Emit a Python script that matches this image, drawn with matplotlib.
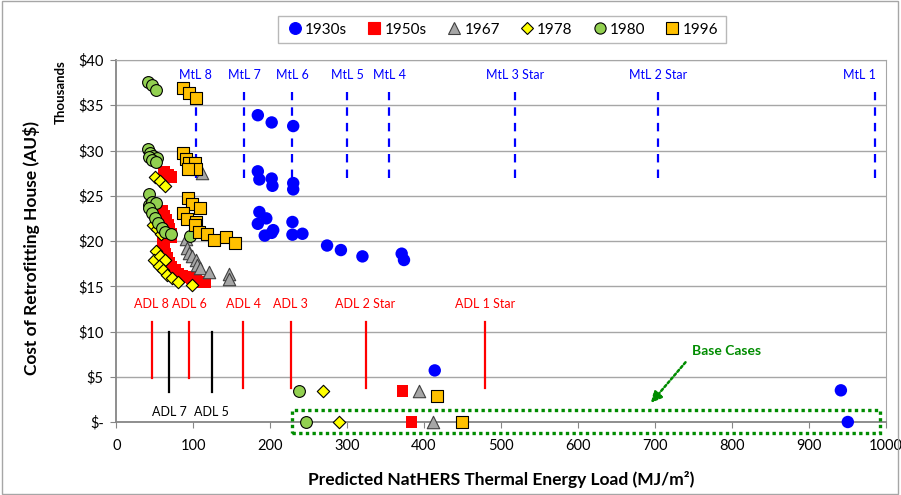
import matplotlib
matplotlib.use("Agg")
import matplotlib.pyplot as plt
from matplotlib.patches import Rectangle
from matplotlib.lines import Line2D
from matplotlib.ticker import FuncFormatter

plt.rcParams['font.family'] = ['Lato', 'DejaVu Sans']

# ---------------- data (y in thousands AU$) ----------------
x_1930s = [184, 202, 230, 184, 186, 202, 203, 230, 230, 186, 195, 184, 204, 193, 202, 229, 229, 242,
           274, 292, 320, 371, 374, 414, 942, 951]
y_1930s = [33.9, 33.1, 32.7, 27.7, 26.8, 26.9, 26.1, 26.4, 25.7, 23.2, 22.5, 21.9, 21.2, 20.6, 20.9, 22.1, 20.7, 20.8,
           19.5, 19.0, 18.3, 18.6, 17.9, 5.7, 3.5, 0]

x_1950s = [62, 67, 71, 60, 62, 65, 67, 69, 71, 72, 60, 62, 64, 66, 69, 72, 76, 81, 86, 92, 98, 104, 110, 115, 372, 384]
y_1950s = [27.6, 27.3, 27.1, 23.3, 22.8, 22.3, 21.8, 21.3, 20.8, 20.4, 19.8, 19.2, 18.6, 18.1, 17.6, 17.2, 16.8, 16.4,
           16.2, 16.0, 15.9, 15.7, 15.5, 15.4, 3.4, 0]

x_1967 = [111, 90.5, 92, 95, 98, 103.5, 105, 109, 121, 147, 147, 393.5, 412]
y_1967 = [27.5, 20.2, 19.2, 18.7, 18.3, 17.9, 17.3, 17.0, 16.6, 16.4, 15.8, 3.4, 0]

x_1978 = [50, 57, 63, 48, 53, 58, 52, 49, 57, 63, 56, 61, 66, 72, 80, 99, 269, 289]
y_1978 = [27.1, 26.6, 26.1, 21.8, 21.3, 20.8, 18.9, 17.9, 18.3, 17.9, 17.2, 16.8, 16.2, 15.9, 15.5, 15.1, 3.4, 0]

x_1980 = [41, 47, 52, 41, 44, 48, 53, 42, 46, 52, 43, 42, 47, 52, 42, 46, 50, 54.5, 59, 63, 70.6, 95.7, 238, 247]
y_1980 = [37.6, 37.2, 36.7, 30.2, 29.7, 29.4, 29.2, 29.3, 28.9, 28.7, 25.2, 24.0, 24.3, 24.2, 23.7, 23.1, 22.5, 22.0,
          21.4, 21.0, 20.8, 20.5, 3.4, 0]

x_1996 = [87, 95, 103, 87, 90.5, 95, 102, 104, 93.5, 93.5, 99, 108.7, 87, 92, 104, 102, 108, 118, 127, 143, 154, 417, 449]
y_1996 = [36.9, 36.3, 35.8, 29.7, 29.1, 28.6, 28.6, 28.0, 28.0, 24.7, 24.1, 23.6, 23.1, 22.4, 22.1, 21.8, 21.0, 20.8,
          20.1, 20.4, 19.8, 2.9, 0]

mtl_labels = ['MtL 8', 'MtL 7', 'MtL 6', 'MtL 5', 'MtL 4', 'MtL 3 Star', 'MtL 2 Star', 'MtL 1']
mtl_x = [103.5, 166, 229, 300, 355, 518, 704, 986]
mtl_y = [27.0, 36.5]

adl_red_labels = ['ADL 8', 'ADL 6', 'ADL 4', 'ADL 3', 'ADL 2 Star', 'ADL 1 Star']
adl_red_x = [46, 95, 165, 226.5, 324, 479]
adl_red_bottom = [4.9, 4.9, 3.8, 3.8, 3.8, 3.8]
adl_red_top = 11.0

adl_black_labels = ['ADL 7', 'ADL 5']
adl_black_x = [69, 124]
adl_black_y = [3.35, 10.0]

base_box_x = [229, 992.7]
base_box_y = [-1.18, 1.33]

x_ticks = list(range(0, 1001, 100))
y_ticks = list(range(0, 41, 5))

# ---------------- figure ----------------
fig = plt.figure(figsize=(9.01, 4.95), dpi=100)
ax = fig.add_axes([116.3/901, 1-422/495, (885.5-116.3)/901, (422-60)/495])

ax.set_xlim(0, 1000)
ax.set_ylim(0, 40)
ax.set_xticks(x_ticks)
ax.set_yticks(y_ticks)
ax.yaxis.set_major_formatter(FuncFormatter(lambda v, p: '$-' if v == 0 else f'${int(v)}'))
ax.grid(axis='y', color='#A6A6A6', lw=1)
ax.set_axisbelow(True)
for s in ['top', 'right']:
    ax.spines[s].set_color('#A6A6A6')
for s in ['left', 'bottom']:
    ax.spines[s].set_color('#868686')
    ax.spines[s].set_linewidth(1.3)
ax.tick_params(axis='both', direction='out', length=4, color='#868686', labelsize=10.5)
ax.tick_params(axis='x', pad=8)
ax.tick_params(axis='y', pad=5)

# reference lines
blue = '#0000FF'
for lab, x in zip(mtl_labels, mtl_x):
    ax.plot([x, x], mtl_y, color=blue, lw=1.6, linestyle=(0, (3.8, 3.2)), zorder=2)
    ha = 'right' if x > 950 else 'center'
    ax.text(x + (2 if ha == 'right' else 0), 38.3, lab, color=blue, fontsize=9, ha=ha, va='center')

for lab, x, b in zip(adl_red_labels, adl_red_x, adl_red_bottom):
    ax.plot([x, x], [b, adl_red_top], color='#FF0000', lw=1.6, zorder=2)
    ax.text(x, 13.0, lab, color='#FF0000', fontsize=9, ha='center', va='center')

for lab, x in zip(adl_black_labels, adl_black_x):
    ax.plot([x, x], adl_black_y, color='black', lw=1.6, zorder=2)
    ax.text(x, 1.14, lab, color='black', fontsize=9, ha='center', va='center')

# series
series = [
    ('1930s', x_1930s, y_1930s, 'o', '#0000FF', 'none', 80),
    ('1950s', x_1950s, y_1950s, 's', '#FF0000', 'none', 70),
    ('1967', x_1967, y_1967, '^', '#A6A6A6', '#404040', 80),
    ('1978', x_1978, y_1978, 'D', '#FFFF00', '#000000', 40),
    ('1980', x_1980, y_1980, 'o', '#92D050', '#000000', 72),
    ('1996', x_1996, y_1996, 's', '#FFC000', '#000000', 70),
]
handles = []
for i, (lab, xs, ys, m, fc, ec, sz) in enumerate(series):
    ax.scatter(xs, ys, marker=m, s=sz, facecolor=fc, edgecolor=ec, linewidths=0.8,
               zorder=3 + i, clip_on=False)
    handles.append(Line2D([], [], marker=m, linestyle='none', markerfacecolor=fc,
                          markeredgecolor=(ec if ec != 'none' else fc), markeredgewidth=0.8,
                          markersize=(sz ** 0.5) * 0.95, label=lab))

# base cases box and annotation
green = '#008C00'
ax.add_patch(Rectangle((base_box_x[0], base_box_y[0]), base_box_x[1]-base_box_x[0],
                       base_box_y[1]-base_box_y[0], fill=False, edgecolor=green, lw=2.4,
                       linestyle=(0, (1, 1)), clip_on=False, zorder=10))
ax.annotate('', xy=(695, 2.1), xytext=(740, 6.6),
            arrowprops=dict(arrowstyle='-|>', color=green, lw=1.8, linestyle=(0, (1, 1)),
                            mutation_scale=16, shrinkA=0, shrinkB=0), zorder=10)
ax.text(793, 7.9, 'Base Cases', color=green, fontsize=10, fontweight='bold', ha='center', va='center')

# axis titles
fig.text(501/901, 1-480/495, 'Predicted NatHERS Thermal Energy Load (MJ/m²)', fontsize=12.5,
         fontweight='bold', ha='center', va='center')
fig.text(32/901, 1-248/495, 'Cost of Retrofitting House (AU$)', fontsize=12.5, fontweight='bold',
         rotation=90, ha='center', va='center')
fig.text(61/901, 1-92/495, 'Thousands', fontsize=9.5, fontweight='bold', rotation=90,
         ha='center', va='center')

# legend
leg = fig.legend(handles=handles, loc='center', bbox_to_anchor=(502/901, 1-29.5/495), ncol=6,
                 frameon=True, fancybox=False, edgecolor='#A6A6A6', fontsize=11,
                 handletextpad=0.1, columnspacing=1.15, handlelength=1.2, borderpad=0.45)
leg.get_frame().set_linewidth(1.0)

# outer chart border
fig.patches.append(Rectangle((0.002, 0.003), 0.995, 0.994, transform=fig.transFigure,
                             fill=False, edgecolor='#A6A6A6', lw=1))

fig.savefig('out.png', dpi=100)
